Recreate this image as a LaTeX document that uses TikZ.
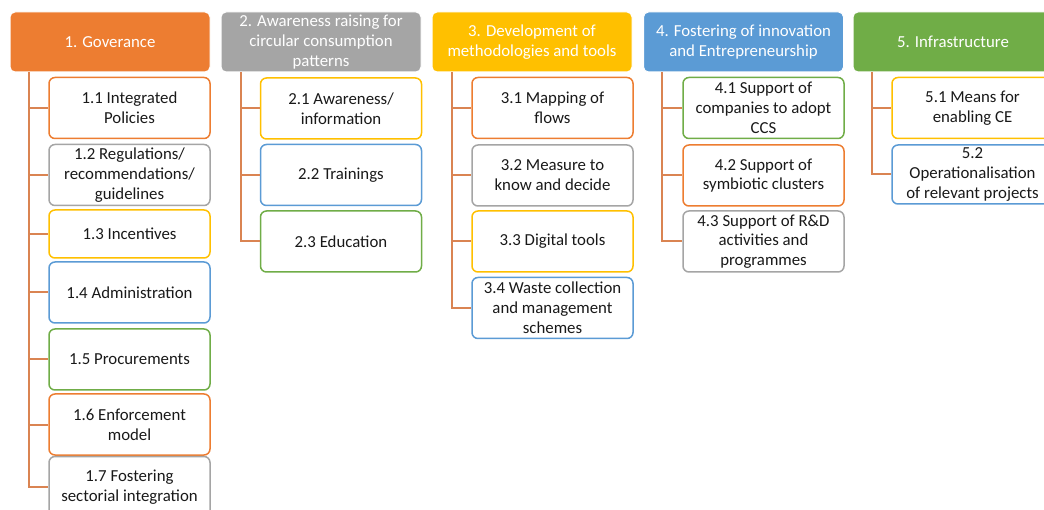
\documentclass[tikz,border=0pt]{standalone}
\usepackage{fontspec}
\setmainfont{Carlito}
\usepackage{xcolor}
\usepackage{tikz}
\usetikzlibrary{positioning,calc}
\definecolor{orangeC}{RGB}{237,125,49}
\definecolor{grayC}{RGB}{165,165,165}
\definecolor{yellowC}{RGB}{255,192,0}
\definecolor{blueC}{RGB}{91,155,213}
\definecolor{greenC}{RGB}{112,173,71}
\definecolor{linkC}{RGB}{218,132,82}
\tikzset{
	headbox/.style = {
			rectangle,
			rounded corners = 5pt,
			draw            = white,
			line width      = 1pt,
			fill            = #1,
			text            = white,
			minimum width   = 200pt,
			minimum height  = 60pt,
			inner sep       = 0pt,
			align           = center,
			font            = \fontsize{16.8pt}{19.8pt}\selectfont,
		},
	itembox/.style = {
			rectangle,
			rounded corners = 6pt,
			draw            = #1,
			line width      = 1.5pt,
			fill            = white,
			text            = black!90,
			minimum width   = 161pt,
			minimum height  = 61pt,
			inner sep       = 0pt,
			align           = center,
			font            = \fontsize{16.8pt}{19.8pt}\selectfont,
		},
	branch/.style = {draw=linkC, line width=2pt},
}

\begin{document}
\begin{tikzpicture}[x=1pt,y=-1pt]
	\useasboundingbox (0,0) rectangle (1044,510);
	\clip (0,0) rectangle (1044,510);
	\fill[white] (0,0) rectangle (1044,510);

	% Top level categories
	\node[headbox=orangeC] (h1) at (110,42)   {1. Goverance};
	\node[headbox=grayC]   (h2) at (321,42)   {2. Awareness raising for\\circular consumption\\patterns};
	\node[headbox=yellowC] (h3) at (532,42)   {3. Development of\\methodologies and tools};
	\node[headbox=blueC]   (h4) at (743.5,42) {4. Fostering of innovation\\and Entrepreneurship};
	\node[headbox=greenC]  (h5) at (953,42)   {5. Infrastructure};

	% Trunk points below each header
	\coordinate (t1) at ([xshift=19pt]h1.south west);
	\coordinate (t2) at ([xshift=20pt]h2.south west);
	\coordinate (t3) at ([xshift=20pt]h3.south west);
	\coordinate (t4) at ([xshift=19pt]h4.south west);
	\coordinate (t5) at ([xshift=19pt]h5.south west);

	% Column 1
	\node[itembox=orangeC] (c11) at (129.5,108)   {1.1 Integrated\\Policies};
	\node[itembox=grayC]   (c12) at (129.5,175)   {1.2 Regulations/\\recommendations/\\guidelines};
	\node[itembox=yellowC, minimum height=48pt] (c13) at (129.5,234) {1.3 Incentives};
	\node[itembox=blueC]   (c14) at (129.5,292.5) {1.4 Administration};
	\node[itembox=greenC]  (c15) at (129.5,359.5) {1.5 Procurements};
	\node[itembox=orangeC] (c16) at (129.5,424.5) {1.6 Enforcement\\model};
	\node[itembox=grayC]   (c17) at (129.5,487)   {1.7 Fostering\\sectorial integration};

	% Column 2
	\node[itembox=yellowC] (c21) at (341,108.5) {2.1 Awareness/\\information};
	\node[itembox=blueC]   (c22) at (341,175)   {2.2 Trainings};
	\node[itembox=greenC]  (c23) at (341,241.5) {2.3 Education};

	% Column 3
	\node[itembox=orangeC] (c31) at (552.5,108)   {3.1 Mapping of\\flows};
	\node[itembox=grayC]   (c32) at (552.5,175.5) {3.2 Measure to\\know and decide};
	\node[itembox=yellowC] (c33) at (552.5,241.5) {3.3 Digital tools};
	\node[itembox=blueC]   (c34) at (552.5,308)   {3.4 Waste collection\\and management\\schemes};

	% Column 4
	\node[itembox=greenC]  (c41) at (763.5,108)   {4.1 Support of\\companies to adopt\\CCS};
	\node[itembox=orangeC] (c42) at (763.5,175.5) {4.2 Support of\\symbiotic clusters};
	\node[itembox=grayC]   (c43) at (763.5,241.5) {4.3 Support of R\&D\\activities and\\programmes};

	% Column 5
	\node[itembox=yellowC] (c51) at (972.5,108)   {5.1 Means for\\enabling CE};
	\node[itembox=blueC, minimum height=59pt] (c52) at (972.5,174.5) {5.2\\Operationalisation\\of relevant projects};

	% Connectors
	\foreach \c in {c11,c12,c13,c14,c15,c16,c17}
		\draw[branch] (t1) |- (\c.west);
	\foreach \c in {c21,c22,c23}
		\draw[branch] (t2) |- (\c.west);
	\foreach \c in {c31,c32,c33,c34}
		\draw[branch] (t3) |- (\c.west);
	\foreach \c in {c41,c42,c43}
		\draw[branch] (t4) |- (\c.west);
	\foreach \c in {c51,c52}
		\draw[branch] (t5) |- (\c.west);
\end{tikzpicture}
\end{document}
